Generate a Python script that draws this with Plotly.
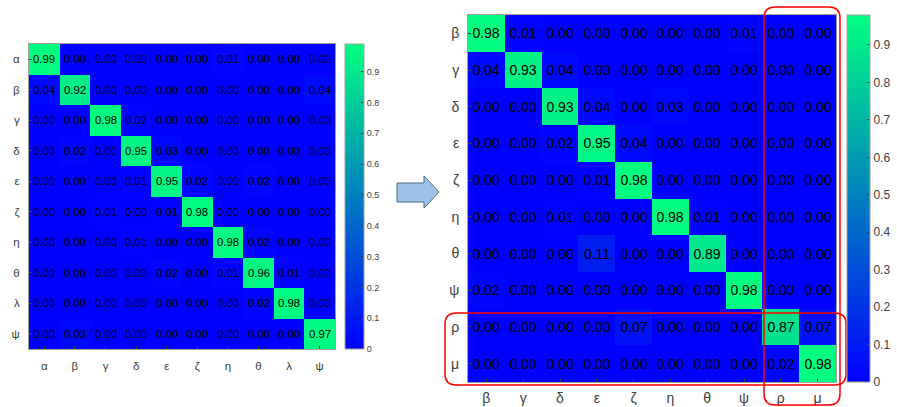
import plotly.graph_objects as go

W, H = 897, 407

left_labels = ["α", "β", "γ", "δ", "ε", "ζ", "η", "θ", "λ", "ψ"]
left_values = [
    [0.99, 0.00, 0.00, 0.00, 0.00, 0.00, 0.01, 0.00, 0.00, 0.00],
    [0.04, 0.92, 0.00, 0.00, 0.00, 0.00, 0.00, 0.00, 0.00, 0.04],
    [0.00, 0.00, 0.98, 0.02, 0.00, 0.00, 0.00, 0.00, 0.00, 0.00],
    [0.00, 0.02, 0.00, 0.95, 0.03, 0.00, 0.00, 0.00, 0.00, 0.00],
    [0.00, 0.00, 0.00, 0.01, 0.95, 0.02, 0.00, 0.02, 0.00, 0.00],
    [0.00, 0.00, 0.01, 0.00, 0.01, 0.98, 0.00, 0.00, 0.00, 0.00],
    [0.00, 0.00, 0.00, 0.01, 0.00, 0.00, 0.98, 0.02, 0.00, 0.00],
    [0.00, 0.00, 0.00, 0.00, 0.02, 0.00, 0.01, 0.96, 0.01, 0.00],
    [0.00, 0.00, 0.00, 0.00, 0.00, 0.00, 0.00, 0.02, 0.98, 0.00],
    [0.00, 0.03, 0.00, 0.00, 0.00, 0.00, 0.00, 0.00, 0.00, 0.97],
]

right_labels = ["β", "γ", "δ", "ε", "ζ", "η", "θ", "ψ", "ρ", "μ"]
right_values = [
    [0.98, 0.01, 0.00, 0.00, 0.00, 0.00, 0.00, 0.01, 0.00, 0.00],
    [0.04, 0.93, 0.04, 0.00, 0.00, 0.00, 0.00, 0.00, 0.00, 0.00],
    [0.00, 0.00, 0.93, 0.04, 0.00, 0.03, 0.00, 0.00, 0.00, 0.00],
    [0.00, 0.00, 0.02, 0.95, 0.04, 0.00, 0.00, 0.00, 0.00, 0.00],
    [0.00, 0.00, 0.00, 0.01, 0.98, 0.00, 0.00, 0.00, 0.00, 0.00],
    [0.00, 0.00, 0.01, 0.00, 0.00, 0.98, 0.01, 0.00, 0.00, 0.00],
    [0.00, 0.00, 0.00, 0.11, 0.00, 0.00, 0.89, 0.00, 0.00, 0.00],
    [0.02, 0.00, 0.00, 0.00, 0.00, 0.00, 0.00, 0.98, 0.00, 0.00],
    [0.00, 0.00, 0.00, 0.00, 0.07, 0.00, 0.00, 0.00, 0.87, 0.07],
    [0.00, 0.00, 0.00, 0.00, 0.00, 0.00, 0.00, 0.00, 0.02, 0.98],
]

cbar_ticks = [0, 0.1, 0.2, 0.3, 0.4, 0.5, 0.6, 0.7, 0.8, 0.9]
winter = [[0, "rgb(0,0,255)"], [1, "rgb(0,255,128)"]]
FONT = "Liberation Sans, Arial"


def px(x):
    return x / W


def py(y):
    return 1 - y / H


# pixel boxes of the two plot areas (left, top, right, bottom)
L = (29, 44, 335, 349)
R = (468, 15, 836, 382)


def cbar(x_left, box, width, fs):
    return dict(
        x=px(x_left), xanchor="left", thickness=width, thicknessmode="pixels",
        y=py(box[3]), yanchor="bottom", len=(box[3] - box[1]) / H, lenmode="fraction",
        tickvals=cbar_ticks, ticks="inside", ticklen=3, tickcolor="#404040",
        tickfont=dict(family=FONT, size=fs, color="#404040"),
        outlinecolor="#a0a0a0", outlinewidth=1, ypad=0, xpad=0,
    )


fig = go.Figure()
fig.add_trace(go.Heatmap(
    z=left_values, x=list(range(len(left_labels))), y=list(range(len(left_labels))),
    colorscale=winter, zmin=0, zmax=max(max(r) for r in left_values),
    texttemplate="%{z:.2f}", textfont=dict(family=FONT, size=11.3, color="black"),
    xaxis="x", yaxis="y", colorbar=cbar(345, L, 19, 9), hoverinfo="skip",
))
fig.add_trace(go.Heatmap(
    z=right_values, x=list(range(len(right_labels))), y=list(range(len(right_labels))),
    colorscale=winter, zmin=0, zmax=max(max(r) for r in right_values),
    texttemplate="%{z:.2f}", textfont=dict(family=FONT, size=14, color="black"),
    xaxis="x2", yaxis="y2", colorbar=cbar(847, R, 23, 12), hoverinfo="skip",
))

axis_common = dict(showline=True, mirror=True, linecolor="#a0a0a0", linewidth=1,
                   ticks="inside", ticklen=3, tickcolor="#404040", showgrid=False, zeroline=False)

fig.update_layout(
    width=W, height=H, margin=dict(l=0, r=0, t=0, b=0),
    paper_bgcolor="white", plot_bgcolor="white",
    xaxis=dict(domain=[px(L[0]), px(L[2])], anchor="y", ticklabelstandoff=6,
               tickvals=list(range(10)), ticktext=left_labels, range=[-0.5, 9.5],
               tickfont=dict(family=FONT, size=11.5, color="#404040"), **axis_common),
    yaxis=dict(domain=[py(L[3]), py(L[1])], anchor="x", ticklabelstandoff=6,
               tickvals=list(range(10)), ticktext=left_labels, range=[9.5, -0.5],
               tickfont=dict(family=FONT, size=11.5, color="#404040"), **axis_common),
    xaxis2=dict(domain=[px(R[0]), px(R[2])], anchor="y2", ticklabelstandoff=3,
                tickvals=list(range(10)), ticktext=right_labels, range=[-0.5, 9.5],
                tickfont=dict(family=FONT, size=14, color="#404040"), **axis_common),
    yaxis2=dict(domain=[py(R[3]), py(R[1])], anchor="x2", ticklabelstandoff=5,
                tickvals=list(range(10)), ticktext=right_labels, range=[9.5, -0.5],
                tickfont=dict(family=FONT, size=14, color="#404040"), **axis_common),
)


def rounded_rect(x0, y0, x1, y1, r):
    pts = []
    pts.append(f"M {px(x0 + r)},{py(y0)}")
    pts.append(f"L {px(x1 - r)},{py(y0)}")
    pts.append(f"Q {px(x1)},{py(y0)} {px(x1)},{py(y0 + r)}")
    pts.append(f"L {px(x1)},{py(y1 - r)}")
    pts.append(f"Q {px(x1)},{py(y1)} {px(x1 - r)},{py(y1)}")
    pts.append(f"L {px(x0 + r)},{py(y1)}")
    pts.append(f"Q {px(x0)},{py(y1)} {px(x0)},{py(y1 - r)}")
    pts.append(f"L {px(x0)},{py(y0 + r)}")
    pts.append(f"Q {px(x0)},{py(y0)} {px(x0 + r)},{py(y0)} Z")
    return " ".join(pts)


fig.add_shape(type="path", xref="paper", yref="paper",
              path=rounded_rect(764, 7, 840, 405, 11), line=dict(color="red", width=1.5))
fig.add_shape(type="path", xref="paper", yref="paper",
              path=rounded_rect(445, 313, 846, 385, 11), line=dict(color="red", width=1.5))

# block arrow between the two panels
arrow_pts = [(397, 183), (424, 183), (424, 176), (439, 192), (424, 208), (424, 202), (397, 202)]
arrow_path = "M " + " L ".join(f"{px(x)},{py(y)}" for x, y in arrow_pts) + " Z"
fig.add_shape(type="path", xref="paper", yref="paper", path=arrow_path,
              fillcolor="#9DC3E6", line=dict(color="#4a6a8a", width=1))

fig.write_html("out.html")
